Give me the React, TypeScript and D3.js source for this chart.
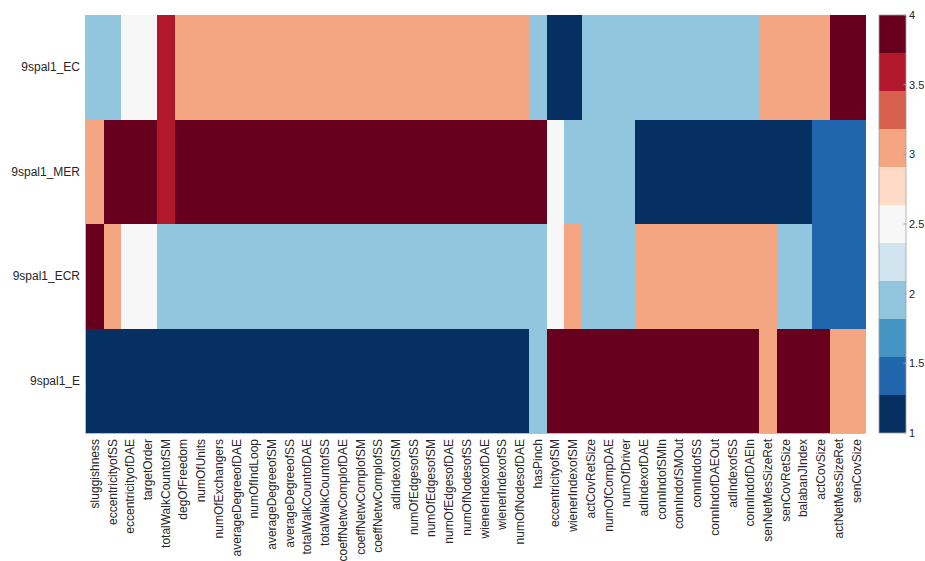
import React from "react";
import * as d3 from "d3";

// Feature names along the x axis
const features: string[] = [
  "sluggishness", "eccentricityofSS", "eccentricityofDAE", "targetOrder",
  "totalWalkCountofSM", "degOfFreedom", "numOfUnits", "numOfExchangers",
  "averageDegreeofDAE", "numOfIndLoop", "averageDegreeofSM", "averageDegreeofSS",
  "totalWalkCountofDAE", "totalWalkCountofSS", "coeffNetwComplofDAE", "coeffNetwComplofSM",
  "coeffNetwComplofSS", "adIndexofSM", "numOfEdgesofSS", "numOfEdgesofSM",
  "numOfEdgesofDAE", "numOfNodesofSS", "wienerIndexofDAE", "wienerIndexofSS",
  "numOfNodesofDAE", "hasPinch", "eccentricityofSM", "wienerIndexofSM",
  "actCovRetSize", "numOfCompDAE", "numOfDriver", "adIndexofDAE",
  "connIndofSMIn", "connIndofSMOut", "connIndofSS", "connIndofDAEOut",
  "adIndexofSS", "connIndofDAEIn", "senNetMesSizeRet", "senCovRetSize",
  "balabanJIndex", "actCovSize", "actNetMesSizeRet", "senCovSize",
];

// Method names along the y axis
const methods: string[] = ["9spal1_EC", "9spal1_MER", "9spal1_ECR", "9spal1_E"];

// Rank of each method per feature
const rankEC: number[] = [
  2, 2, 2.5, 2.5, 3.5, 3, 3, 3, 3, 3, 3, 3, 3, 3, 3, 3, 3, 3, 3, 3, 3, 3,
  3, 3, 3, 2, 1, 1, 2, 2, 2, 2, 2, 2, 2, 2, 2, 2, 3, 3, 3, 3, 4, 4,
];
const rankMER: number[] = [
  3, 4, 4, 4, 3.5, 4, 4, 4, 4, 4, 4, 4, 4, 4, 4, 4, 4, 4, 4, 4, 4, 4,
  4, 4, 4, 4, 2.5, 2, 2, 2, 2, 1, 1, 1, 1, 1, 1, 1, 1, 1, 1, 1.5, 1.5, 1.5,
];
const rankECR: number[] = [
  4, 3, 2.5, 2.5, 2, 2, 2, 2, 2, 2, 2, 2, 2, 2, 2, 2, 2, 2, 2, 2, 2, 2,
  2, 2, 2, 2, 2.5, 3, 2, 2, 2, 3, 3, 3, 3, 3, 3, 3, 3, 2, 2, 1.5, 1.5, 1.5,
];
const rankE: number[] = [
  1, 1, 1, 1, 1, 1, 1, 1, 1, 1, 1, 1, 1, 1, 1, 1, 1, 1, 1, 1, 1, 1,
  1, 1, 1, 2, 4, 4, 4, 4, 4, 4, 4, 4, 4, 4, 4, 4, 3, 4, 4, 4, 3, 3,
];

const colorTicks: number[] = [1, 1.5, 2, 2.5, 3, 3.5, 4];

const palette = [
  "#053061", "#2166ac", "#4393c3", "#92c5de", "#d1e5f0", "#f7f7f7",
  "#fddbc7", "#f4a582", "#d6604d", "#b2182b", "#67001f",
];

const W = 925;
const H = 561;
const plot = { left: 86, right: 865.5, top: 15, bottom: 433 };
const bar = { left: 879, right: 906 };
const FONT = "'Liberation Sans', Arial, Helvetica, sans-serif";
const TEXT = "#262626";

export default function App() {
  const ranks = [rankEC, rankMER, rankECR, rankE];

  const x = d3.scaleBand<string>().domain(features).range([plot.left, plot.right]);
  const y = d3.scaleBand<string>().domain(methods).range([plot.top, plot.bottom]);

  const vmin = 1;
  const vmax = 4;
  const color = d3
    .scaleQuantize<string>()
    .domain([vmin, vmax])
    .range(palette);
  const cy = d3.scaleLinear().domain([vmin, vmax]).range([plot.bottom, plot.top]);
  const step = (vmax - vmin) / palette.length;

  return (
    <svg
      width={W}
      height={H}
      style={{ position: "absolute", left: 0, top: 0, background: "#fff" }}
      fontFamily={FONT}
    >
      {/* heatmap cells */}
      <g shapeRendering="crispEdges">
        {methods.map((m, r) =>
          features.map((f, c) => (
            <rect
              key={m + f}
              x={x(f)!}
              y={y(m)!}
              width={x.bandwidth()}
              height={y.bandwidth()}
              fill={color(ranks[r][c])}
            />
          ))
        )}
      </g>
      {/* axis lines */}
      <line x1={plot.left - 0.5} x2={plot.left - 0.5} y1={plot.top} y2={plot.bottom + 0.5} stroke="#bdbdbd" />
      <line x1={plot.left - 0.5} x2={plot.right} y1={plot.bottom + 0.5} y2={plot.bottom + 0.5} stroke="#bdbdbd" />

      {/* row labels */}
      {methods.map((m) => (
        <text
          key={m}
          x={plot.left - 6}
          y={y(m)! + y.bandwidth() / 2}
          textAnchor="end"
          dominantBaseline="central"
          fontSize={12}
          fill={TEXT}
        >
          {m}
        </text>
      ))}

      {/* column labels */}
      {features.map((f) => (
        <text
          key={f}
          transform={`translate(${x(f)! + x.bandwidth() / 2},${plot.bottom + 6}) rotate(-90)`}
          textAnchor="end"
          dominantBaseline="central"
          fontSize={12}
          fill={TEXT}
        >
          {f}
        </text>
      ))}

      {/* colorbar */}
      <g shapeRendering="crispEdges">
        {palette.map((p, i) => (
          <rect
            key={p}
            x={bar.left}
            y={cy(vmin + (i + 1) * step)}
            width={bar.right - bar.left}
            height={cy(vmin + i * step) - cy(vmin + (i + 1) * step)}
            fill={p}
          />
        ))}
      </g>
      <rect
        x={bar.left}
        y={plot.top}
        width={bar.right - bar.left}
        height={plot.bottom - plot.top}
        fill="none"
        stroke="#a0a0a0"
        strokeWidth={0.8}
      />
      {colorTicks.map((t) => (
        <g key={t}>
          <line x1={bar.right - 2.5} x2={bar.right} y1={cy(t)} y2={cy(t)} stroke="#a0a0a0" />
          <text
            x={bar.right + 3}
            y={cy(t)}
            dominantBaseline="central"
            fontSize={11}
            fill={TEXT}
          >
            {t}
          </text>
        </g>
      ))}
    </svg>
  );
}
